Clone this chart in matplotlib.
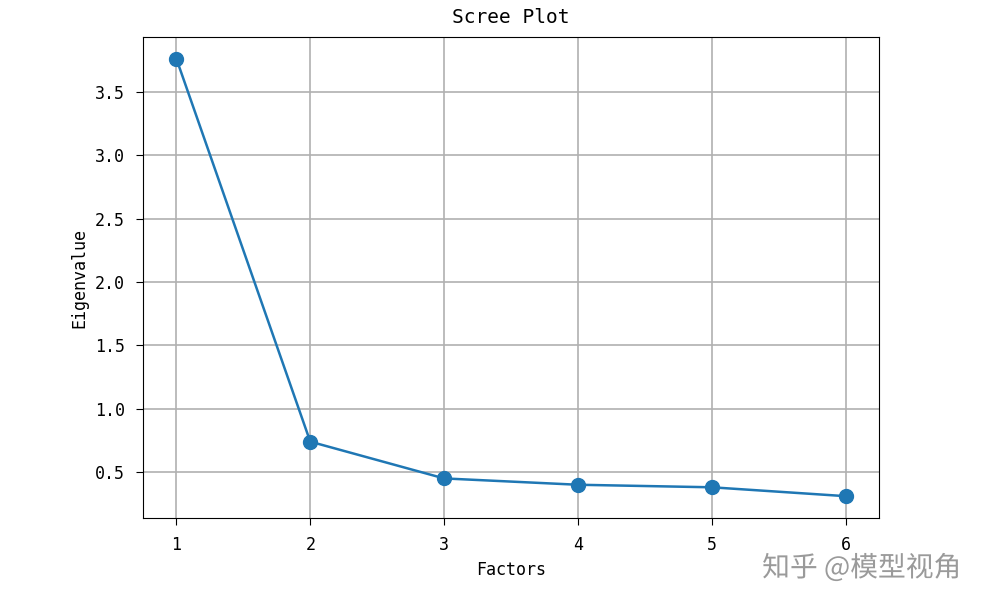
import numpy as np
import matplotlib
matplotlib.use("Agg")
import matplotlib.pyplot as plt
import matplotlib.patheffects as pe

# eigenvalues
factors = [1, 2, 3, 4, 5, 6]
eigenvalues = [3.76, 0.74, 0.45, 0.40, 0.38, 0.31]

plt.rcParams['font.family'] = ['DejaVu Sans Mono', 'Noto Sans CJK SC']

fig = plt.figure(figsize=(9.95, 6.02), dpi=100)
ax = fig.add_axes([0.1437, 0.1395, 0.7397, 0.799])

ax.scatter(factors, eigenvalues, s=100, color="#1f77b4", zorder=3)
ax.plot(factors, eigenvalues, color="#1f77b4", linewidth=1.8, zorder=3)

ax.set_title("Scree Plot", fontsize=14, pad=10)
ax.set_xlabel("Factors", fontsize=12, labelpad=5)
ax.set_ylabel("Eigenvalue", fontsize=12, labelpad=5)
ax.tick_params(labelsize=12, length=5, pad=8)
ax.grid(True, color="#b0b0b0", linewidth=1.2)

fig.text(0.866, 0.056, "知乎 @模型视角", fontsize=20, color="#9a9a9a",
         family=['Noto Sans CJK SC', 'DejaVu Sans'], ha="center", va="center",
         path_effects=[pe.withStroke(linewidth=3, foreground="white")])

fig.savefig("out.png", dpi=100)
